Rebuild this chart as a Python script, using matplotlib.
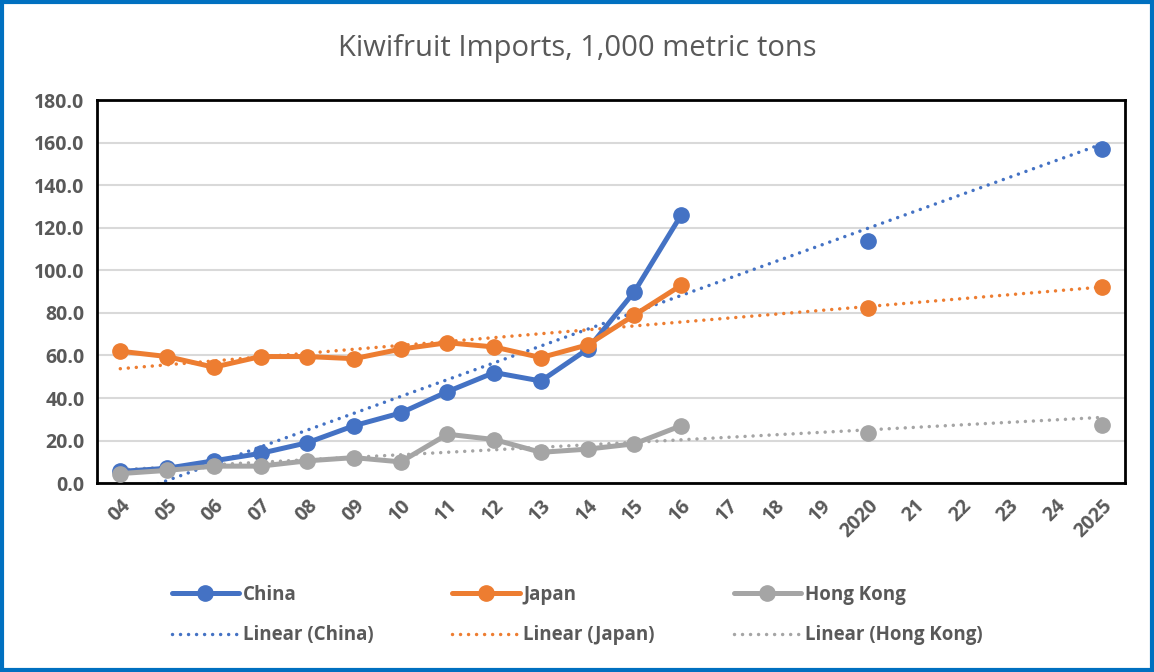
import numpy as np
import matplotlib
matplotlib.use('Agg')
import matplotlib.pyplot as plt
from matplotlib.patches import Rectangle

categories = ['04', '05', '06', '07', '08', '09', '10', '11', '12', '13', '14',
              '15', '16', '17', '18', '19', '2020', '21', '22', '23', '24', '2025']
nan = np.nan
china = [5.5, 7.0, 10.5, 14.0, 19.0, 27.0, 33.0, 43.0, 52.0, 48.0, 63.0, 90.0, 126.0,
         nan, nan, nan, 114.0, nan, nan, nan, nan, 157.0]
japan = [62.0, 59.5, 54.5, 59.5, 59.5, 58.5, 63.0, 66.0, 64.0, 59.0, 65.0, 79.0, 93.0,
         nan, nan, nan, 82.5, nan, nan, nan, nan, 92.0]
hong_kong = [4.5, 6.0, 8.0, 8.0, 10.5, 12.0, 10.0, 23.0, 20.5, 14.5, 16.0, 18.5, 27.0,
             nan, nan, nan, 23.5, nan, nan, nan, nan, 27.5]

series = [('China', china, '#4472C4'),
          ('Japan', japan, '#ED7D31'),
          ('Hong Kong', hong_kong, '#A5A5A5')]

plt.rcParams['font.family'] = ['Open Sans', 'DejaVu Sans']
text_color = '#595959'

fig = plt.figure(figsize=(11.54, 6.72), dpi=100)
ax = fig.add_axes([0.084, 0.281, 0.891, 0.57])

x = np.arange(len(categories))
handles = []
for name, vals, color in series:
    y = np.array(vals, dtype=float)
    line, = ax.plot(x, y, color=color, linewidth=3.6, marker='o', markersize=11,
                    solid_capstyle='round', zorder=3, label=name)
    # linear trendline over the known points
    ok = ~np.isnan(y)
    k, b = np.polyfit(x[ok], y[ok], 1)
    trend, = ax.plot(x, k * x + b, color=color, linewidth=2.5, linestyle=(0, (0.01, 2.3)),
                     dash_capstyle='round', zorder=2, label='Linear (%s)' % name)
    handles += [line, trend]

ax.set_xlim(-0.5, len(categories) - 0.5)
ax.set_ylim(0, 180)
ax.set_yticks(np.arange(0, 181, 20))
ax.set_yticklabels(['%.1f' % v for v in np.arange(0, 181, 20)])
ax.set_xticks(x)
ax.set_xticklabels(categories, rotation=45, ha='right', rotation_mode='anchor')
ax.tick_params(axis='both', length=0, labelsize=14, labelcolor=text_color, pad=9)
for lab in ax.get_xticklabels() + ax.get_yticklabels():
    lab.set_fontweight('bold')
ax.grid(axis='y', color='#D9D9D9', linewidth=1.5)
ax.set_axisbelow(True)
for sp in ax.spines.values():
    sp.set_color('black')
    sp.set_linewidth(2)

fig.text(0.5, 0.928, 'Kiwifruit Imports, 1,000 metric tons', ha='center', va='center',
         fontsize=21, color=text_color)

leg = fig.legend(handles=handles, loc='center', bbox_to_anchor=(0.5, 0.085), ncol=3,
                 frameon=False, fontsize=13.5, handlelength=3.6, columnspacing=4.2,
                 labelspacing=1.1, handletextpad=0.2)
for t in leg.get_texts():
    t.set_color(text_color)
    t.set_fontweight('bold')

fig.patches.append(Rectangle((0.002, 0.003), 0.996, 0.994, transform=fig.transFigure,
                             fill=False, edgecolor='#0070C0', linewidth=3))

fig.savefig('out.png', dpi=100)
